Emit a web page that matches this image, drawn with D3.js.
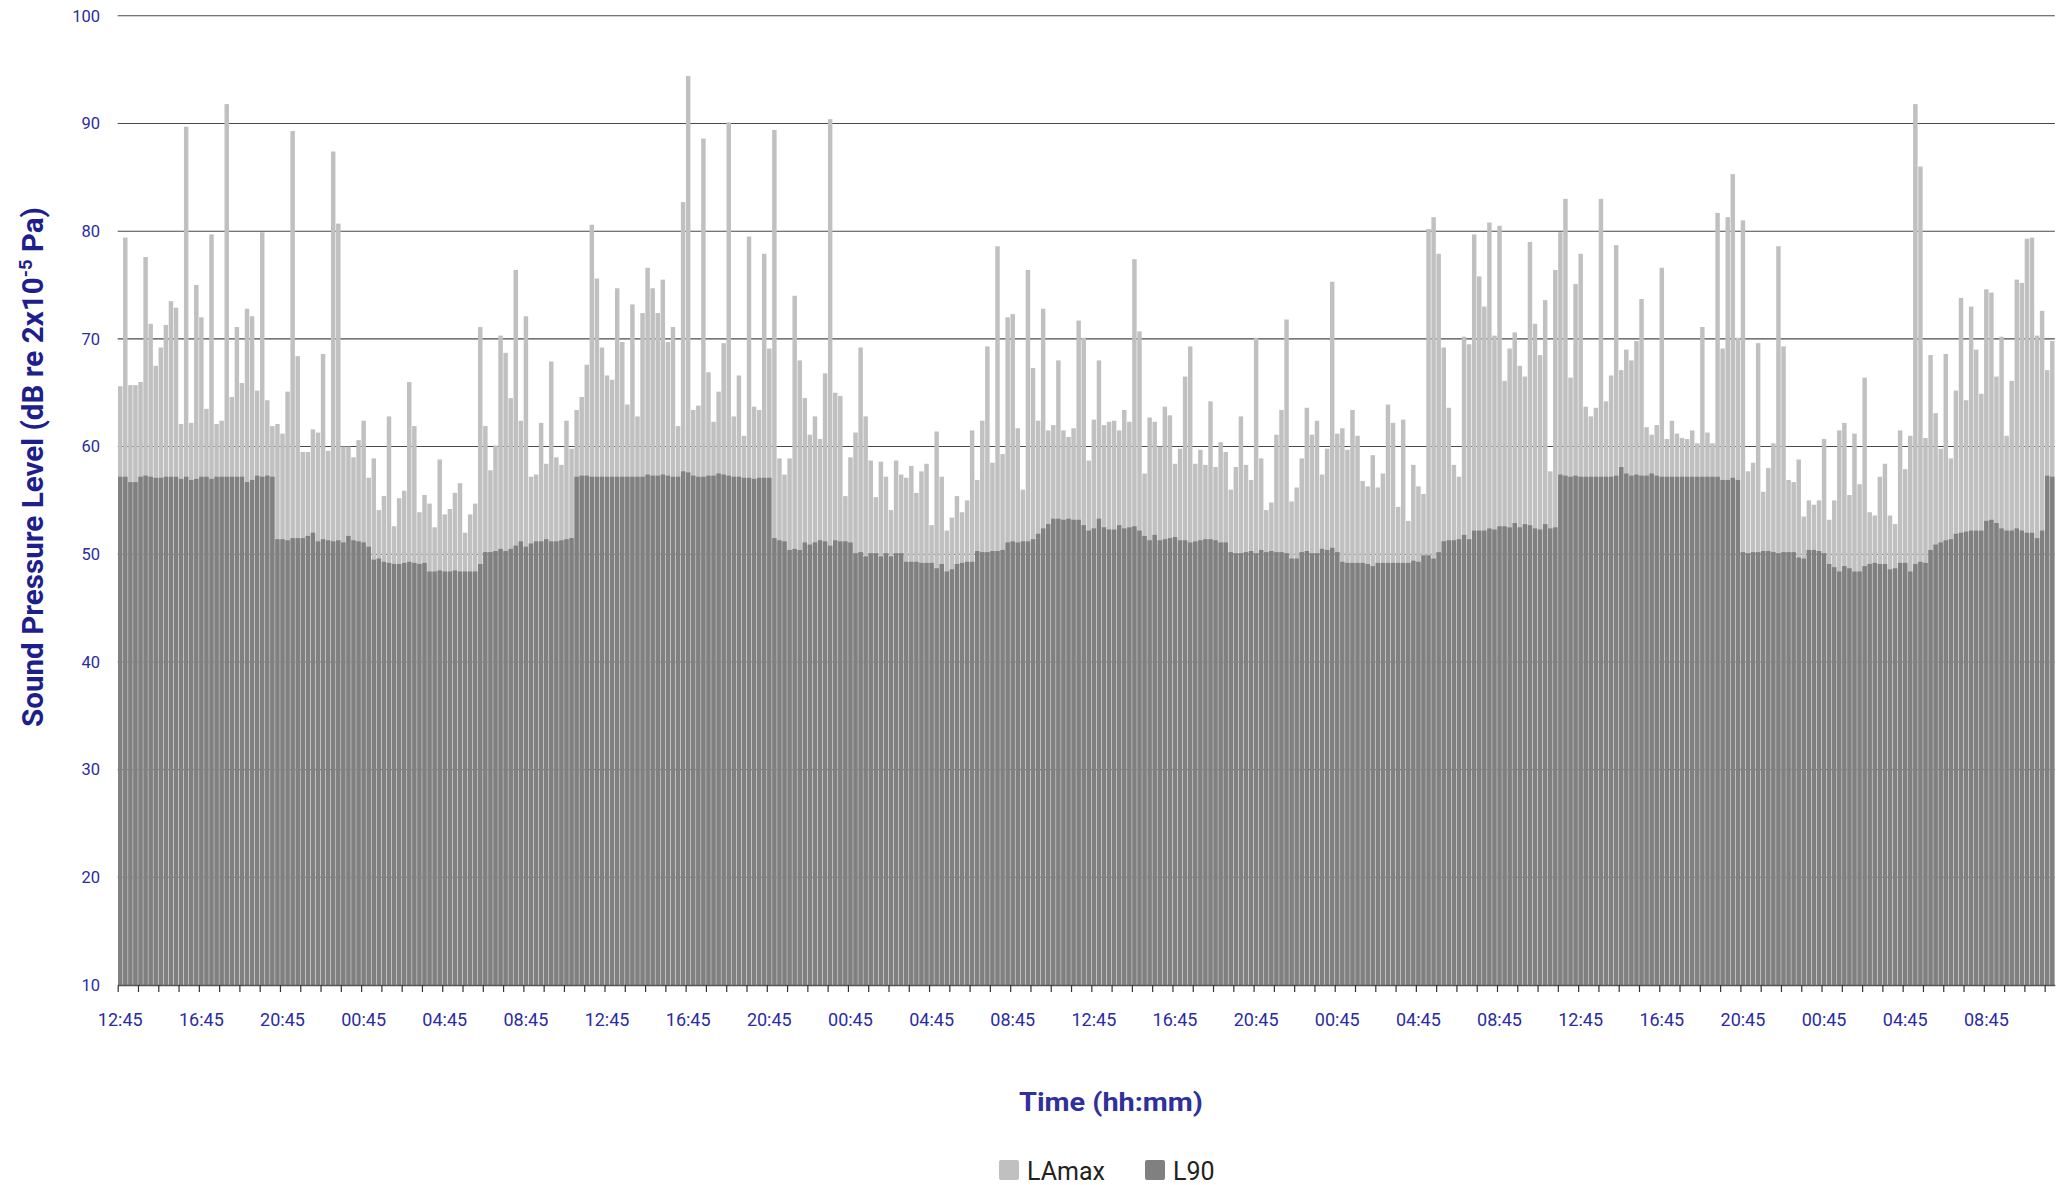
<!DOCTYPE html>
<html><head><meta charset="utf-8">
<script src="https://cdn.jsdelivr.net/npm/d3@7"></script>
<style>html,body{margin:0;padding:0;background:#fff;} svg{display:block;}</style>
</head><body><svg id="chart" width="2063" height="1185"></svg>
<script>
// LAmax per 15-minute interval (dB)
const lamax = [
65.6,79.4,65.7,65.7,66.0,77.6,71.4,67.5,69.2,71.3,
73.5,72.9,62.1,89.7,62.2,75.0,72.0,63.5,79.7,62.1,
62.4,91.8,64.6,71.1,65.9,72.8,72.1,65.2,79.9,64.3,
61.9,62.1,61.2,65.1,89.3,68.4,59.5,59.5,61.6,61.3,
68.6,59.6,87.4,80.7,60.0,60.0,59.0,60.6,62.4,57.1,
58.9,54.1,55.4,62.8,52.6,55.2,55.9,66.0,61.9,53.9,
55.5,54.7,52.5,58.8,53.7,54.2,55.7,56.6,52.0,53.7,
54.7,71.1,61.9,57.8,60.1,70.3,68.7,64.5,76.4,62.4,
72.1,57.2,57.4,62.2,58.4,67.9,59.0,58.3,62.4,59.8,
63.4,64.6,67.6,80.6,75.6,69.2,66.6,66.2,74.7,69.7,
63.9,73.2,62.8,72.4,76.6,74.7,72.4,75.5,69.7,71.1,
61.9,82.7,94.4,63.4,63.8,88.6,66.9,62.3,65.1,69.6,
90.1,62.8,66.6,61.0,79.5,63.7,63.4,77.9,69.1,89.4,
58.9,57.4,58.9,74.0,68.0,64.5,61.1,62.8,60.7,66.8,
90.4,65.0,64.7,55.4,59.0,61.3,69.2,62.8,58.7,55.3,
58.6,57.2,54.1,58.7,57.4,57.1,58.2,55.7,57.7,58.4,
52.7,61.4,57.2,52.2,53.4,55.4,53.9,55.0,61.5,56.9,
62.4,69.3,58.5,78.6,59.3,72.0,72.3,61.7,56.0,76.4,
67.3,62.4,72.8,61.5,62.0,68.0,61.5,60.9,61.7,71.7,
70.1,58.7,62.5,68.0,62.0,62.3,62.4,61.5,63.4,62.3,
77.4,70.7,57.5,62.7,62.3,60.0,63.7,62.9,58.4,59.8,
66.5,69.3,58.4,59.7,58.3,64.2,58.1,60.4,59.5,56.0,
58.1,62.8,58.3,56.9,70.1,58.9,54.1,54.8,61.1,63.4,
71.8,54.9,56.2,58.9,63.6,61.1,62.4,57.4,59.8,75.3,
61.2,61.7,59.7,63.4,61.0,56.8,56.3,59.2,56.2,57.5,
63.9,62.2,54.4,62.5,53.1,58.3,56.3,55.6,80.2,81.3,
77.9,69.2,63.6,58.3,57.2,70.2,69.5,79.7,75.8,73.0,
80.8,70.3,80.5,66.1,69.1,70.6,67.5,66.5,79.0,71.4,
68.5,73.6,57.7,76.4,79.9,83.0,66.4,75.1,77.9,63.7,
62.8,63.6,83.0,64.2,66.6,78.7,67.1,69.0,68.0,69.8,
73.7,61.8,61.1,62.0,76.6,60.7,62.4,61.2,60.8,60.7,
61.5,60.3,71.1,61.3,60.3,81.7,69.1,81.3,85.3,70.1,
81.0,57.7,58.5,69.6,55.8,58.0,60.3,78.6,69.3,56.9,
56.7,58.8,53.5,55.0,54.6,55.0,60.7,53.2,55.0,61.5,
62.2,55.5,61.2,56.5,66.4,53.9,53.6,57.2,58.4,53.6,
52.8,61.5,57.9,61.0,91.8,86.0,60.8,68.5,63.1,59.8,
68.6,58.9,65.2,73.8,64.3,73.0,69.0,64.9,74.6,74.3,
66.5,70.2,61.0,66.1,75.5,75.2,79.3,79.4,70.3,72.6,
67.1,69.8
];

// L90 per 15-minute interval (dB)
const l90 = [
57.2,57.2,56.7,56.7,57.2,57.3,57.2,57.1,57.1,57.2,
57.2,57.2,57.0,57.2,56.9,57.0,57.2,57.2,57.0,57.2,
57.2,57.2,57.2,57.2,57.2,56.7,56.9,57.3,57.2,57.3,
57.2,51.4,51.4,51.3,51.5,51.5,51.5,51.7,52.0,51.2,
51.4,51.3,51.2,51.3,51.1,51.7,51.3,51.2,51.1,50.7,
49.5,49.6,49.3,49.2,49.1,49.1,49.2,49.3,49.2,49.1,
49.2,48.4,48.4,48.5,48.4,48.4,48.5,48.4,48.4,48.4,
48.4,49.1,50.2,50.2,50.3,50.5,50.3,50.5,50.8,51.2,
50.7,51.0,51.2,51.2,51.4,51.2,51.2,51.3,51.4,51.5,
57.2,57.3,57.3,57.2,57.2,57.2,57.2,57.2,57.2,57.2,
57.2,57.2,57.2,57.2,57.4,57.3,57.3,57.4,57.3,57.2,
57.2,57.7,57.6,57.3,57.2,57.2,57.3,57.3,57.5,57.4,
57.3,57.2,57.2,57.1,57.1,57.0,57.1,57.1,57.1,51.5,
51.3,51.2,50.4,50.5,50.4,51.1,50.9,51.1,51.3,51.2,
50.8,51.3,51.2,51.2,51.1,50.1,50.2,49.8,50.1,50.1,
49.8,50.1,49.8,50.1,50.1,49.3,49.3,49.3,49.2,49.2,
49.2,48.7,49.1,48.4,48.6,49.1,49.2,49.3,49.3,50.3,
50.2,50.2,50.3,50.3,50.4,51.1,51.2,51.1,51.2,51.2,
51.4,51.9,52.4,52.8,53.3,53.3,53.2,53.3,53.2,53.2,
52.7,52.2,52.4,53.3,52.5,52.3,52.3,52.7,52.4,52.5,
52.6,52.2,51.7,51.3,51.8,51.3,51.4,51.5,51.6,51.3,
51.3,51.1,51.2,51.3,51.4,51.4,51.3,51.1,51.1,50.2,
50.1,50.1,50.2,50.3,50.1,50.4,50.2,50.3,50.2,50.2,
50.1,49.6,49.6,50.2,50.3,50.1,50.1,50.5,50.4,50.6,
50.2,49.3,49.2,49.2,49.2,49.2,49.1,48.9,49.2,49.2,
49.2,49.2,49.2,49.2,49.2,49.4,49.3,49.9,49.9,49.6,
50.2,51.2,51.3,51.3,51.4,51.8,51.4,52.2,52.2,52.2,
52.4,52.3,52.6,52.6,52.5,52.9,52.5,52.8,52.7,52.4,
52.3,52.8,52.4,52.5,57.4,57.3,57.2,57.3,57.2,57.2,
57.2,57.2,57.2,57.2,57.2,57.3,58.1,57.5,57.3,57.4,
57.3,57.3,57.5,57.3,57.2,57.2,57.2,57.2,57.2,57.2,
57.2,57.2,57.2,57.2,57.2,57.2,56.9,56.9,57.1,56.9,
50.2,50.1,50.2,50.2,50.3,50.3,50.2,50.1,50.2,50.2,
50.2,49.7,49.6,50.4,50.4,50.3,50.1,49.1,48.8,48.4,
48.9,48.7,48.4,48.4,48.9,49.1,49.2,49.1,49.1,48.6,
48.7,49.2,49.2,48.4,49.1,49.3,49.2,50.4,50.9,51.1,
51.3,51.4,51.9,52.0,52.1,52.2,52.2,52.2,53.1,53.2,
52.9,52.4,52.2,52.2,52.4,52.2,52.0,52.0,51.5,52.2,
57.3,57.2
];

// time categories, 15-minute steps from 12:45
const categories = [];
for (let i = 0; i < lamax.length; i++) {
  const t = (12 * 60 + 45 + 15 * i) % 1440;
  categories.push(String(Math.floor(t / 60)).padStart(2, '0') + ':' + String(t % 60).padStart(2, '0'));
}
const tickLabels = ["12:45","16:45","20:45","00:45","04:45","08:45",
                    "12:45","16:45","20:45","00:45","04:45","08:45",
                    "12:45","16:45","20:45","00:45","04:45","08:45",
                    "12:45","16:45","20:45","00:45","04:45","08:45"];
const yTicks = [10,20,30,40,50,60,70,80,90,100];
const seriesNames = ["LAmax","L90"];

(function draw() {
  const pLeft = 117.7, pRight = 2054.8, pTop = 15.8, pBottom = 985;
  const n = categories.length;
  const svg = d3.select('#chart');
  const FONT = 'Roboto, "DejaVu Sans", sans-serif';
  const TICKCOL = '#2b2ba3';

  const x = d3.scaleBand().domain(d3.range(n)).range([pLeft, pRight]).paddingInner(0.12).paddingOuter(0.06);
  const xLin = d3.scaleLinear().domain([0, n]).range([pLeft, pRight]);
  const y = d3.scaleLinear().domain([10, 100]).range([pBottom, pTop]);
  const color = d3.scaleOrdinal().domain(seriesNames).range(['#c0c0c0', '#808080']);

  // gridlines
  svg.append('g').selectAll('line').data(yTicks.filter(v => v > 10)).join('line')
    .attr('x1', pLeft).attr('x2', pRight)
    .attr('y1', d => y(d)).attr('y2', d => y(d))
    .attr('stroke', '#4a4a4a').attr('stroke-width', 1.1);

  // bars
  svg.append('g').selectAll('rect').data(lamax).join('rect')
    .attr('x', (d, i) => x(i)).attr('width', x.bandwidth())
    .attr('y', d => y(d)).attr('height', d => pBottom - y(d))
    .attr('fill', color('LAmax'));
  svg.append('g').selectAll('rect').data(l90).join('rect')
    .attr('x', (d, i) => x(i)).attr('width', x.bandwidth())
    .attr('y', d => y(d)).attr('height', d => pBottom - y(d))
    .attr('fill', color('L90'));

  // x axis
  const xAxis = svg.append('g').attr('transform', `translate(0,${pBottom})`)
    .call(d3.axisBottom(xLin).tickValues(d3.range(0, n + 1, 4)).tickSize(7).tickSizeOuter(0).tickFormat(''));
  xAxis.select('.domain').attr('stroke', '#555').attr('stroke-width', 1.5);
  xAxis.selectAll('.tick line').attr('stroke', '#333').attr('stroke-width', 1.2);

  svg.append('g').selectAll('text').data(tickLabels).join('text')
    .attr('x', (d, k) => x(k * 16) + x.bandwidth() / 2)
    .attr('y', 1026)
    .attr('text-anchor', 'middle')
    .attr('font-family', FONT).attr('font-size', 18).attr('fill', TICKCOL)
    .text(d => d);

  // y axis labels
  const yAxis = svg.append('g').attr('transform', `translate(${pLeft},0)`)
    .call(d3.axisLeft(y).tickValues(yTicks).tickSize(0).tickPadding(17.7));
  yAxis.select('.domain').remove();
  yAxis.selectAll('text').attr('font-family', FONT).attr('font-size', 16.5).attr('fill', TICKCOL);

  // y title
  const yt = svg.append('text')
    .attr('transform', 'translate(43,467) rotate(-90)')
    .attr('text-anchor', 'middle')
    .attr('font-family', FONT).attr('font-weight', 'bold').attr('font-size', 29)
    .attr('fill', '#1e1e8c')
    .attr('textLength', 520).attr('lengthAdjust', 'spacingAndGlyphs');
  yt.append('tspan').text('Sound Pressure Level (dB re 2x10');
  yt.append('tspan').attr('dy', -11).attr('font-size', 18).text('-5');
  yt.append('tspan').attr('dy', 11).text(' Pa)');

  // x title
  svg.append('text')
    .attr('x', 1111).attr('y', 1111)
    .attr('text-anchor', 'middle')
    .attr('font-family', FONT).attr('font-weight', 'bold').attr('font-size', 26)
    .attr('fill', '#30309c')
    .attr('textLength', 184).attr('lengthAdjust', 'spacingAndGlyphs')
    .text('Time (hh:mm)');

  // legend
  const legendX = [999, 1145];
  const lg = svg.append('g').selectAll('g').data(seriesNames).join('g')
    .attr('transform', (d, i) => `translate(${legendX[i]},1160)`);
  lg.append('rect').attr('width', 20).attr('height', 20).attr('rx', 2).attr('fill', d => color(d));
  lg.append('text').attr('x', 28).attr('y', 20)
    .attr('font-family', FONT).attr('font-size', 25).attr('fill', '#222')
    .text(d => d);
})();
</script>
</body></html>
